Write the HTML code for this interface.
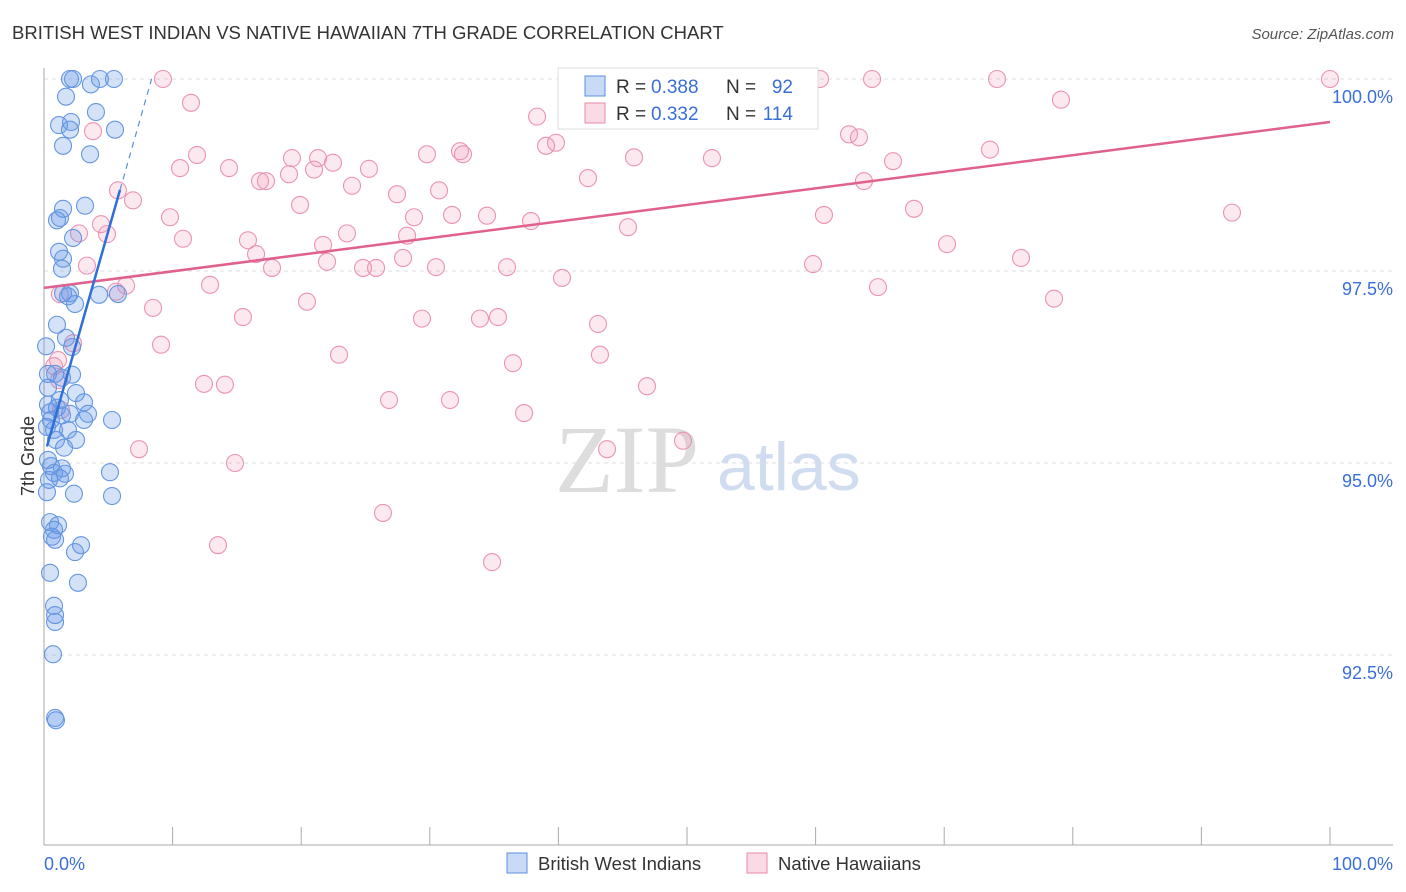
<!DOCTYPE html>
<html><head><meta charset="utf-8"><style>
body{margin:0;background:#fff;font-family:"Liberation Sans",sans-serif;}
svg{display:block}
</style></head><body>
<svg id="chart" width="1406" height="892">
<text x="12" y="39" font-size="18.5" fill="#333">BRITISH WEST INDIAN VS NATIVE HAWAIIAN 7TH GRADE CORRELATION CHART</text>
<text x="1394" y="39" font-size="15" fill="#555" text-anchor="end" font-style="italic">Source: ZipAtlas.com</text>
<g>
<text x="555" y="492" font-size="96" font-family="Liberation Serif,serif" fill="#ddd">ZIP</text>
<text x="717" y="490" font-size="68" fill="#d0dcf0">atlas</text>
</g>
<g id="grid"></g>
<g id="axes"></g>
<g id="pink"></g>
<g id="blue"></g>
<g id="lines"></g>
<text transform="translate(34,456) rotate(-90)" font-size="18" fill="#333" text-anchor="middle">7th Grade</text>
<g>
<rect x="558" y="68" width="260" height="61" fill="#fff" stroke="#ddd"/>
<rect x="585" y="76" width="20" height="20" fill="rgba(100,150,230,0.35)" stroke="#5b8fe0"/>
<text x="616" y="93" font-size="19" fill="#333">R =</text>
<text x="651" y="93" font-size="19" fill="#3a6fd8">0.388</text>
<text x="726" y="93" font-size="19" fill="#333">N =</text>
<text x="793" y="93" font-size="19" fill="#3a6fd8" text-anchor="end">92</text>
<rect x="585" y="103" width="20" height="20" fill="rgba(240,150,180,0.35)" stroke="#e88aab"/>
<text x="616" y="120" font-size="19" fill="#333">R =</text>
<text x="651" y="120" font-size="19" fill="#3a6fd8">0.332</text>
<text x="726" y="120" font-size="19" fill="#333">N =</text>
<text x="793" y="120" font-size="19" fill="#3a6fd8" text-anchor="end">114</text>
</g>
<g>
<rect x="507" y="853" width="20" height="20" fill="rgba(100,150,230,0.35)" stroke="#5b8fe0"/>
<text x="538" y="870" font-size="18.5" fill="#333">British West Indians</text>
<rect x="747" y="853" width="20" height="20" fill="rgba(240,150,180,0.35)" stroke="#e88aab"/>
<text x="778" y="870" font-size="18.5" fill="#333">Native Hawaiians</text>
</g>
</svg>
<script>
const yTicks=[100,97.5,95,92.5];
const yTickLabels=["100.0%","97.5%","95.0%","92.5%"];
const xTickValues=[0,10,20,30,40,50,60,70,80,90,100];
const blueX=[2.02,2.26,4.35,5.44,3.65,1.71,4.04,1.17,2.10,5.52,2.02,1.48,3.58,1.48,3.19,1.01,1.24,2.26,1.17,1.48,1.40,1.48,2.02,1.87,4.28,5.75,2.41,1.01,1.71,2.18,0.16,0.31,0.86,2.18,1.40,2.49,0.31,3.11,1.24,0.47,2.02,3.42,5.29,1.40,3.11,0.78,1.87,0.23,0.93,1.56,2.49,0.31,0.54,1.40,1.63,0.78,1.24,0.39,5.13,2.33,5.29,0.23,0.47,1.09,0.78,0.62,0.86,2.88,2.41,0.47,2.64,0.78,0.86,0.86,0.70,0.86,0.93,1.01,0.31,0.54];
const blueY=[100,100,100,100,99.93,99.77,99.57,99.40,99.44,99.34,99.34,99.13,99.02,98.31,98.35,98.16,98.19,97.93,97.75,97.66,97.53,97.21,97.21,97.17,97.19,97.20,97.07,96.80,96.63,96.51,96.52,96.16,96.16,96.15,96.11,95.91,95.98,95.79,95.82,95.66,95.64,95.64,95.56,95.62,95.56,95.43,95.43,95.47,95.30,95.20,95.30,95.04,94.96,94.93,94.86,94.87,94.80,94.78,94.88,94.60,94.57,94.62,94.23,94.19,94.13,94.04,94.00,93.93,93.84,93.57,93.44,93.14,93.02,92.93,92.51,91.68,91.65,95.72,95.76,95.56];
const pinkX=[9.25,41.52,47.51,59.41,60.34,64.39,74.11,100,11.43,79.08,38.34,3.81,62.60,63.37,11.90,19.28,21.31,29.78,32.35,32.58,39.04,39.81,45.88,51.94,66.02,73.56,10.58,14.39,21.00,22.47,25.27,16.80,17.26,19.05,23.95,30.72,27.45,42.30,63.76,5.75,6.92,19.91,9.80,28.77,31.73,34.45,37.87,60.65,67.65,92.38,45.41,4.90,2.72,4.43,10.81,15.86,21.70,23.56,28.23,70.22,16.49,27.92,3.34,17.73,22.01,24.81,25.82,30.48,36.00,59.80,75.97,40.28,12.91,6.38,5.60,1.24,64.85,20.45,78.54,8.48,15.47,29.39,33.90,35.30,43.08,9.10,22.94,43.23,36.47,2.26,1.09,0.78,12.44,14.07,46.89,26.83,31.57,37.33,1.32,7.39,49.69,43.78,14.85,26.36,13.53,34.84,1.17];
const pinkY=[100,100,100,100,100,100,100,100,99.69,99.73,99.51,99.32,99.28,99.24,99.01,98.97,98.97,99.02,99.06,99.02,99.13,99.17,98.98,98.97,98.93,99.08,98.84,98.84,98.82,98.91,98.83,98.67,98.67,98.76,98.61,98.55,98.50,98.71,98.67,98.55,98.42,98.36,98.20,98.20,98.23,98.22,98.15,98.23,98.31,98.26,98.07,97.98,97.99,98.11,97.92,97.90,97.84,97.99,97.96,97.85,97.72,97.67,97.57,97.54,97.62,97.54,97.54,97.55,97.55,97.59,97.67,97.41,97.32,97.31,97.23,97.20,97.29,97.10,97.14,97.02,96.90,96.88,96.88,96.90,96.81,96.54,96.41,96.41,96.30,96.56,96.34,96.26,96.03,96.02,96.00,95.82,95.82,95.65,95.69,95.18,95.29,95.18,95.00,94.35,93.93,93.71,96.08];
const pinkTrend=[97.28,99.44];      // y at x=0 and x=100
const blueTrend=[95.08,0.588];      // intercept, slope per %
const X=v=>44+v*12.86, Y=v=>79+(100-v)*76.8;
const NS="http://www.w3.org/2000/svg";
function mk(tag,attrs,parent){const e=document.createElementNS(NS,tag);for(const k in attrs)e.setAttribute(k,attrs[k]);parent.appendChild(e);return e;}
const grid=document.getElementById('grid'),axes=document.getElementById('axes');
yTicks.forEach((t,i)=>{
 const l=mk('line',{x1:44,x2:1393,y1:Y(t),y2:Y(t),stroke:'#ddd','stroke-dasharray':'4,4'},grid);
 
 
 const tx=mk('text',{x:1393,y:Y(t)+24,'font-size':18,fill:'#3a6fd8','text-anchor':'end'},axes);
 tx.textContent=yTickLabels[i];
 
 
});
let a=mk('line',{x1:44,x2:44,y1:68,y2:845,stroke:'#aaa'},axes);


a=mk('line',{x1:44,x2:1393,y1:845,y2:845,stroke:'#aaa'},axes);


xTickValues.forEach(t=>{
 const l=mk('line',{x1:X(t),x2:X(t),y1:827,y2:845,stroke:'#aaa'},axes);
 
 
});
let t1=mk('text',{x:44,y:870,'font-size':18,fill:'#3a6fd8'},axes);t1.textContent='0.0%';


t1=mk('text',{x:1393,y:870,'font-size':18,fill:'#3a6fd8','text-anchor':'end'},axes);t1.textContent='100.0%';


const pg=document.getElementById('pink');
pinkX.forEach((x,i)=>{
 const c=mk('circle',{cx:X(x),cy:Y(pinkY[i]),r:8.5,fill:'rgba(240,150,180,0.22)',stroke:'#eb93b2','stroke-width':1.1},pg);
 
 
});
const bg=document.getElementById('blue');
blueX.forEach((x,i)=>{
 const c=mk('circle',{cx:X(x),cy:Y(blueY[i]),r:8.5,fill:'rgba(100,150,230,0.28)',stroke:'#6596e2','stroke-width':1.1},bg);
 
 
});
const lg=document.getElementById('lines');
let tl=mk('line',{x1:X(0),y1:Y(pinkTrend[0]),x2:X(100),y2:Y(pinkTrend[1]),stroke:'#e0608e','stroke-width':2.5},lg);


const bx0=0.23,bx1=5.91,bx2=(100-blueTrend[0])/blueTrend[1];
tl=mk('line',{x1:X(bx0),y1:Y(blueTrend[0]+blueTrend[1]*bx0),x2:X(bx1),y2:Y(blueTrend[0]+blueTrend[1]*bx1),stroke:'#2f6fd8','stroke-width':2.5},lg);


tl=mk('line',{x1:X(bx1),y1:Y(blueTrend[0]+blueTrend[1]*bx1),x2:X(bx2),y2:Y(100),stroke:'#5b8fe0','stroke-width':1.2,'stroke-dasharray':'6,5'},lg);


</script>
</body></html>
